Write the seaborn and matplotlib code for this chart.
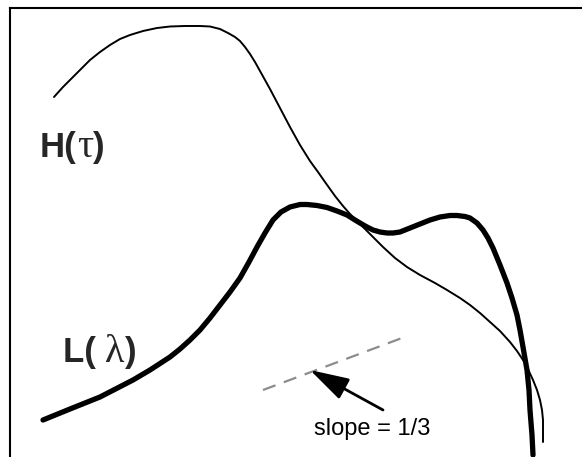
import matplotlib
matplotlib.use("Agg")
import matplotlib.pyplot as plt
import seaborn as sns
import pandas as pd

h_x = [54, 63, 73, 82, 90, 100, 110, 120, 130, 143, 157, 170, 185, 200, 210, 220,
       228, 235, 240, 245, 250, 255, 260, 270, 280, 290, 300, 310, 318, 325, 335,
       343, 350, 358, 367, 375, 383, 395, 407, 420, 435, 447, 460, 470, 480, 490,
       500, 510, 517, 523, 527, 533, 537, 540, 542, 543, 543]
h_y = [97, 87, 77, 68, 60, 52, 45, 39, 35, 31, 28, 26.5, 26, 26, 26.5, 29,
       33, 37, 41, 47, 54, 62, 71, 89, 108, 127, 145, 161, 172, 182, 196,
       206, 214, 222, 231, 239, 247, 258, 267, 275, 283, 290, 298, 305, 313, 322,
       331, 342, 351, 360, 367, 380, 390, 400, 410, 420, 442]

l_x = [43, 70, 100, 133, 150, 170, 180, 190, 200, 210, 220, 230, 240, 249, 257,
       265, 273, 281, 290, 300, 307, 317, 327, 337, 347, 355, 360, 367, 373, 380,
       387, 393, 400, 410, 420, 430, 440, 450, 457, 465, 470, 477, 483, 488, 493,
       500, 507, 512, 517, 520, 523, 527, 529, 530, 532, 533]
l_y = [420, 409, 397, 380, 370, 357, 349, 340, 330, 318, 305, 292, 278, 262, 247,
       233, 220, 212, 207, 204.5, 204.5, 205.5, 207.5, 211, 215, 220, 223, 227, 230, 232,
       233, 233, 232, 228, 224, 220, 217, 215.5, 215.5, 216.5, 218, 223, 230, 238, 248,
       265, 283, 298, 315, 330, 347, 370, 390, 410, 435, 455]

slope_x = [263, 402]
slope_y = [390, 338]

arrow_tip = (310, 370)
arrow_tail = (383, 410)

label_h = ("H(", "τ", ")")
label_l = ("L( ", "λ", ")")
slope_label = "slope = 1/3"

# ---- figure ----
sns.set_theme(style="white")
plt.rcParams["font.family"] = ["Liberation Sans", "DejaVu Sans"]

W, H = 582, 457
fig = plt.figure(figsize=(W / 100, H / 100), dpi=100)
ax = fig.add_axes([10 / W, -0.1, 1.0, (H - 8) / H + 0.1])
ax.set_xlim(10, 10 + W)
ax.set_ylim(8 + (H - 8) + 0.1 * H, 8)

dfh = pd.DataFrame({"x": h_x, "y": h_y})
dfl = pd.DataFrame({"x": l_x, "y": l_y})
sns.lineplot(data=dfh, x="x", y="y", ax=ax, color="black", lw=1.4,
             sort=False, estimator=None)
sns.lineplot(data=dfl, x="x", y="y", ax=ax, color="black", lw=3.8,
             sort=False, estimator=None)
sns.lineplot(x=slope_x, y=slope_y, ax=ax, color="#8c8c8c", lw=1.6,
             dashes=False, estimator=None, sort=False)
ax.lines[-1].set_dashes((6, 4))

ax.annotate("", xy=arrow_tip, xytext=arrow_tail,
            arrowprops=dict(arrowstyle="-|>,head_length=1.2,head_width=0.35",
                            mutation_scale=20, lw=2.0, color="black",
                            shrinkA=0, shrinkB=0))

ax.text(372, 435, slope_label, ha="center", va="baseline", fontsize=17,
        color="black")

sans = ["Liberation Sans", "DejaVu Sans"]
serif = ["Liberation Serif", "DejaVu Serif"]
renderer = fig.canvas.get_renderer()


def right_edge(t):
    bb = t.get_window_extent(renderer=renderer)
    return ax.transData.inverted().transform((bb.x1, bb.y0))[0]


def label(x, y, parts, size, gsize):
    t1 = ax.text(x, y, parts[0], ha="left", va="baseline", fontsize=size,
                 fontweight="bold", family=sans)
    x2 = right_edge(t1)
    t2 = ax.text(x2, y, parts[1], ha="left", va="baseline", fontsize=gsize,
                 family=serif)
    x3 = right_edge(t2)
    ax.text(x3, y, parts[2], ha="left", va="baseline", fontsize=size,
            fontweight="bold", family=sans)


label(40, 157, label_h, 25, 29)
label(63, 362, label_l, 25, 29)

ax.set_xticks([])
ax.set_yticks([])
ax.set_xlabel("")
ax.set_ylabel("")
for side in ("left", "top", "right", "bottom"):
    ax.spines[side].set_visible(True)
    ax.spines[side].set_color("black")
    ax.spines[side].set_linewidth(1.5)

fig.savefig("out.png", dpi=100)
